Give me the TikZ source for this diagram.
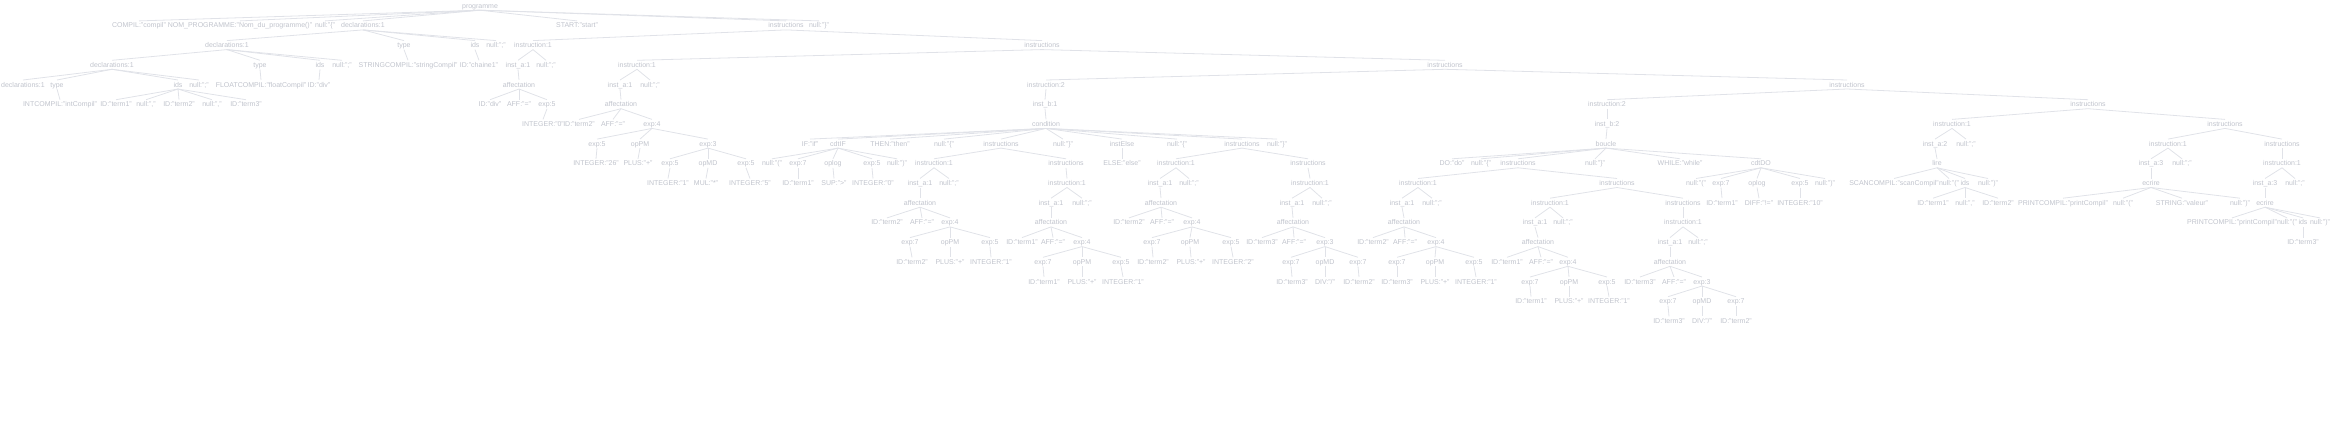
\documentclass[tikz,border=0pt]{standalone}
\usepackage{fontspec}
\setmainfont{Liberation Sans}
\definecolor{txtc}{RGB}{192,195,204}
\definecolor{lnc}{RGB}{224,226,232}
\tikzset{
  tn/.style={inner sep=0.3pt, text=txtc, font=\fontsize{7}{8}\selectfont, text height=6.5pt, text depth=1.5pt, anchor=base},
  ln/.style={draw=lnc, line width=0.8pt}
}
\newcommand\nd[4]{\node[tn] (#1) at (#2,{8.2+19.7*#3}) {#4};}
\newcommand\edg[2]{\draw[ln] (#1.south) -- (#2.north);}
\begin{document}
\begin{tikzpicture}[x=1pt,y=-1pt]
\useasboundingbox (0,0) rectangle (2330,434);
% level 0
\nd{r}{480}{0}{programme}
% level 1
\nd{a1}{139}{1}{COMPIL:"compil"}
\nd{a2}{240}{1}{NOM\_PROGRAMME:"Nom\_du\_programme()"}
\nd{a3}{325}{1}{null:"\{"}
\nd{a4}{363}{1}{declarations:1}
\nd{a5}{577}{1}{START:"start"}
\nd{a6}{786}{1}{instructions}
\nd{a7}{819}{1}{null:"\}"}
% level 2
\nd{b1}{227}{2}{declarations:1}
\nd{b2}{404}{2}{type}
\nd{b3}{475}{2}{ids}
\nd{b4}{496}{2}{null:";"}
\nd{b5}{533}{2}{instruction:1}
\nd{b6}{1042}{2}{instructions}
% level 3
\nd{c1}{112}{3}{declarations:1}
\nd{c2}{260}{3}{type}
\nd{c3}{320}{3}{ids}
\nd{c4}{342}{3}{null:";"}
\nd{c5}{408}{3}{STRINGCOMPIL:"stringCompil"}
\nd{c6}{479}{3}{ID:"chaine1"}
\nd{c7}{518}{3}{inst\_a:1}
\nd{c8}{546}{3}{null:";"}
\nd{c9}{637}{3}{instruction:1}
\nd{c10}{1445}{3}{instructions}
% level 4
\nd{d1}{23}{4}{declarations:1}
\nd{d2}{57}{4}{type}
\nd{d3}{178}{4}{ids}
\nd{d4}{199}{4}{null:";"}
\nd{d5}{261}{4}{FLOATCOMPIL:"floatCompil"}
\nd{d6}{319}{4}{ID:"div"}
\nd{d7}{519}{4}{affectation}
\nd{d8}{620}{4}{inst\_a:1}
\nd{d9}{650}{4}{null:";"}
\nd{d10}{1046}{4}{instruction:2}
\nd{d11}{1847}{4}{instructions}
% level 5
\nd{e1}{60}{5}{INTCOMPIL:"intCompil"}
\nd{e2}{116}{5}{ID:"term1"}
\nd{e3}{146}{5}{null:","}
\nd{e4}{179}{5}{ID:"term2"}
\nd{e5}{212}{5}{null:","}
\nd{e6}{246}{5}{ID:"term3"}
\nd{e7}{490}{5}{ID:"div"}
\nd{e8}{519}{5}{AFF:"="}
\nd{e9}{547}{5}{exp:5}
\nd{e10}{621}{5}{affectation}
\nd{e11}{1045}{5}{inst\_b:1}
\nd{e12}{1607}{5}{instruction:2}
\nd{e13}{2088}{5}{instructions}
% level 6
\nd{f1}{543}{6}{INTEGER:"0"}
\nd{f2}{579}{6}{ID:"term2"}
\nd{f3}{613}{6}{AFF:"="}
\nd{f4}{652}{6}{exp:4}
\nd{f5}{1046}{6}{condition}
\nd{f6}{1607}{6}{inst\_b:2}
\nd{f7}{1952}{6}{instruction:1}
\nd{f8}{2225}{6}{instructions}
% level 7
\nd{g1}{597}{7}{exp:5}
\nd{g2}{640}{7}{opPM}
\nd{g3}{708}{7}{exp:3}
\nd{g4}{810}{7}{IF:"if"}
\nd{g5}{838}{7}{cdtIF}
\nd{g6}{890}{7}{THEN:"then"}
\nd{g7}{944}{7}{null:"\{"}
\nd{g8}{1001}{7}{instructions}
\nd{g9}{1063}{7}{null:"\}"}
\nd{g10}{1122}{7}{instElse}
\nd{g11}{1177}{7}{null:"\{"}
\nd{g12}{1242}{7}{instructions}
\nd{g13}{1277}{7}{null:"\}"}
\nd{g14}{1606}{7}{boucle}
\nd{g15}{1935}{7}{inst\_a:2}
\nd{g16}{1966}{7}{null:";"}
\nd{g17}{2168}{7}{instruction:1}
\nd{g18}{2282}{7}{instructions}
% level 8
\nd{h1}{596}{8}{INTEGER:"26"}
\nd{h2}{638}{8}{PLUS:"+"}
\nd{h3}{670}{8}{exp:5}
\nd{h4}{708}{8}{opMD}
\nd{h5}{746}{8}{exp:5}
\nd{h6}{772}{8}{null:"("}
\nd{h7}{798}{8}{exp:7}
\nd{h8}{833}{8}{oplog}
\nd{h9}{872}{8}{exp:5}
\nd{h10}{897}{8}{null:")"}
\nd{h11}{934}{8}{instruction:1}
\nd{h12}{1066}{8}{instructions}
\nd{h13}{1122}{8}{ELSE:"else"}
\nd{h14}{1176}{8}{instruction:1}
\nd{h15}{1308}{8}{instructions}
\nd{h16}{1452}{8}{DO:"do"}
\nd{h17}{1481}{8}{null:"\{"}
\nd{h18}{1518}{8}{instructions}
\nd{h19}{1595}{8}{null:"\}"}
\nd{h20}{1680}{8}{WHILE:"while"}
\nd{h21}{1761}{8}{cdtDO}
\nd{h22}{1937}{8}{lire}
\nd{h23}{2151}{8}{inst\_a:3}
\nd{h24}{2182}{8}{null:";"}
\nd{h25}{2282}{8}{instruction:1}
% level 9
\nd{i1}{668}{9}{INTEGER:"1"}
\nd{i2}{706}{9}{MUL:"*"}
\nd{i3}{750}{9}{INTEGER:"5"}
\nd{i4}{798}{9}{ID:"term1"}
\nd{i5}{834}{9}{SUP:">"}
\nd{i6}{873}{9}{INTEGER:"0"}
\nd{i7}{920}{9}{inst\_a:1}
\nd{i8}{949}{9}{null:";"}
\nd{i9}{1067}{9}{instruction:1}
\nd{i10}{1160}{9}{inst\_a:1}
\nd{i11}{1189}{9}{null:";"}
\nd{i12}{1310}{9}{instruction:1}
\nd{i13}{1418}{9}{instruction:1}
\nd{i14}{1617}{9}{instructions}
\nd{i15}{1696}{9}{null:"("}
\nd{i16}{1721}{9}{exp:7}
\nd{i17}{1757}{9}{oplog}
\nd{i18}{1800}{9}{exp:5}
\nd{i19}{1825}{9}{null:")"}
\nd{i20}{1894}{9}{SCANCOMPIL:"scanCompil"}
\nd{i21}{1949}{9}{null:"("}
\nd{i22}{1965}{9}{ids}
\nd{i23}{1988}{9}{null:")"}
\nd{i24}{2151}{9}{ecrire}
\nd{i25}{2265}{9}{inst\_a:3}
\nd{i26}{2295}{9}{null:";"}
% level 10
\nd{j1}{920}{10}{affectation}
\nd{j2}{1051}{10}{inst\_a:1}
\nd{j3}{1082}{10}{null:";"}
\nd{j4}{1161}{10}{affectation}
\nd{j5}{1292}{10}{inst\_a:1}
\nd{j6}{1322}{10}{null:";"}
\nd{j7}{1402}{10}{inst\_a:1}
\nd{j8}{1432}{10}{null:";"}
\nd{j9}{1550}{10}{instruction:1}
\nd{j10}{1683}{10}{instructions}
\nd{j11}{1722}{10}{ID:"term1"}
\nd{j12}{1759}{10}{DIFF:"!="}
\nd{j13}{1800}{10}{INTEGER:"10"}
\nd{j14}{1933}{10}{ID:"term1"}
\nd{j15}{1965}{10}{null:","}
\nd{j16}{1998}{10}{ID:"term2"}
\nd{j17}{2063}{10}{PRINTCOMPIL:"printCompil"}
\nd{j18}{2123}{10}{null:"("}
\nd{j19}{2182}{10}{STRING:"valeur"}
\nd{j20}{2240}{10}{null:")"}
\nd{j21}{2265}{10}{ecrire}
% level 11
\nd{k1}{887}{11}{ID:"term2"}
\nd{k2}{922}{11}{AFF:"="}
\nd{k3}{950}{11}{exp:4}
\nd{k4}{1051}{11}{affectation}
\nd{k5}{1129}{11}{ID:"term2"}
\nd{k6}{1162}{11}{AFF:"="}
\nd{k7}{1192}{11}{exp:4}
\nd{k8}{1293}{11}{affectation}
\nd{k9}{1404}{11}{affectation}
\nd{k10}{1535}{11}{inst\_a:1}
\nd{k11}{1563}{11}{null:";"}
\nd{k12}{1683}{11}{instruction:1}
\nd{k13}{2232}{11}{PRINTCOMPIL:"printCompil"}
\nd{k14}{2287}{11}{null:"("}
\nd{k15}{2303}{11}{ids}
\nd{k16}{2320}{11}{null:")"}
% level 12
\nd{l1}{910}{12}{exp:7}
\nd{l2}{950}{12}{opPM}
\nd{l3}{990}{12}{exp:5}
\nd{l4}{1022}{12}{ID:"term1"}
\nd{l5}{1053}{12}{AFF:"="}
\nd{l6}{1082}{12}{exp:4}
\nd{l7}{1152}{12}{exp:7}
\nd{l8}{1190}{12}{opPM}
\nd{l9}{1231}{12}{exp:5}
\nd{l10}{1262}{12}{ID:"term3"}
\nd{l11}{1294}{12}{AFF:"="}
\nd{l12}{1325}{12}{exp:3}
\nd{l13}{1373}{12}{ID:"term2"}
\nd{l14}{1405}{12}{AFF:"="}
\nd{l15}{1436}{12}{exp:4}
\nd{l16}{1538}{12}{affectation}
\nd{l17}{1670}{12}{inst\_a:1}
\nd{l18}{1698}{12}{null:";"}
\nd{l19}{2303}{12}{ID:"term3"}
% level 13
\nd{m1}{912}{13}{ID:"term2"}
\nd{m2}{950}{13}{PLUS:"+"}
\nd{m3}{991}{13}{INTEGER:"1"}
\nd{m4}{1043}{13}{exp:7}
\nd{m5}{1082}{13}{opPM}
\nd{m6}{1121}{13}{exp:5}
\nd{m7}{1153}{13}{ID:"term2"}
\nd{m8}{1191}{13}{PLUS:"+"}
\nd{m9}{1233}{13}{INTEGER:"2"}
\nd{m10}{1291}{13}{exp:7}
\nd{m11}{1325}{13}{opMD}
\nd{m12}{1358}{13}{exp:7}
\nd{m13}{1397}{13}{exp:7}
\nd{m14}{1435}{13}{opPM}
\nd{m15}{1474}{13}{exp:5}
\nd{m16}{1507}{13}{ID:"term1"}
\nd{m17}{1541}{13}{AFF:"="}
\nd{m18}{1568}{13}{exp:4}
\nd{m19}{1670}{13}{affectation}
% level 14
\nd{n1}{1044}{14}{ID:"term1"}
\nd{n2}{1082}{14}{PLUS:"+"}
\nd{n3}{1123}{14}{INTEGER:"1"}
\nd{n4}{1292}{14}{ID:"term3"}
\nd{n5}{1325}{14}{DIV:"/"}
\nd{n6}{1359}{14}{ID:"term2"}
\nd{n7}{1397}{14}{ID:"term3"}
\nd{n8}{1435}{14}{PLUS:"+"}
\nd{n9}{1476}{14}{INTEGER:"1"}
\nd{n10}{1530}{14}{exp:7}
\nd{n11}{1569}{14}{opPM}
\nd{n12}{1607}{14}{exp:5}
\nd{n13}{1640}{14}{ID:"term3"}
\nd{n14}{1674}{14}{AFF:"="}
\nd{n15}{1702}{14}{exp:3}
% level 15
\nd{o1}{1531}{15}{ID:"term1"}
\nd{o2}{1569}{15}{PLUS:"+"}
\nd{o3}{1609}{15}{INTEGER:"1"}
\nd{o4}{1668}{15}{exp:7}
\nd{o5}{1702}{15}{opMD}
\nd{o6}{1736}{15}{exp:7}
% level 16
\nd{p1}{1669}{16}{ID:"term3"}
\nd{p2}{1702}{16}{DIV:"/"}
\nd{p3}{1736}{16}{ID:"term2"}
% edges
\foreach \c in {a1,a2,a3,a4,a5,a6,a7} {\edg{r}{\c}}
\foreach \c in {b1,b2,b3,b4} {\edg{a4}{\c}}
\foreach \c in {b5,b6} {\edg{a6}{\c}}
\foreach \c in {c1,c2,c3,c4} {\edg{b1}{\c}}
\edg{b2}{c5} \edg{b3}{c6}
\foreach \c in {c7,c8} {\edg{b5}{\c}}
\foreach \c in {c9,c10} {\edg{b6}{\c}}
\foreach \c in {d1,d2,d3,d4} {\edg{c1}{\c}}
\edg{c2}{d5} \edg{c3}{d6} \edg{c7}{d7}
\foreach \c in {d8,d9} {\edg{c9}{\c}}
\foreach \c in {d10,d11} {\edg{c10}{\c}}
\edg{d2}{e1}
\foreach \c in {e2,e3,e4,e5,e6} {\edg{d3}{\c}}
\foreach \c in {e7,e8,e9} {\edg{d7}{\c}}
\edg{d8}{e10} \edg{d10}{e11}
\foreach \c in {e12,e13} {\edg{d11}{\c}}
\edg{e9}{f1}
\foreach \c in {f2,f3,f4} {\edg{e10}{\c}}
\edg{e11}{f5} \edg{e12}{f6}
\foreach \c in {f7,f8} {\edg{e13}{\c}}
\foreach \c in {g1,g2,g3} {\edg{f4}{\c}}
\foreach \c in {g4,g5,g6,g7,g8,g9,g10,g11,g12,g13} {\edg{f5}{\c}}
\edg{f6}{g14}
\foreach \c in {g15,g16} {\edg{f7}{\c}}
\foreach \c in {g17,g18} {\edg{f8}{\c}}
\edg{g1}{h1} \edg{g2}{h2}
\foreach \c in {h3,h4,h5} {\edg{g3}{\c}}
\foreach \c in {h6,h7,h8,h9,h10} {\edg{g5}{\c}}
\foreach \c in {h11,h12} {\edg{g8}{\c}}
\edg{g10}{h13}
\foreach \c in {h14,h15} {\edg{g12}{\c}}
\foreach \c in {h16,h17,h18,h19,h20,h21} {\edg{g14}{\c}}
\edg{g15}{h22}
\foreach \c in {h23,h24} {\edg{g17}{\c}}
\edg{g18}{h25}
\edg{h3}{i1} \edg{h4}{i2} \edg{h5}{i3}
\edg{h7}{i4} \edg{h8}{i5} \edg{h9}{i6}
\foreach \c in {i7,i8} {\edg{h11}{\c}}
\edg{h12}{i9}
\foreach \c in {i10,i11} {\edg{h14}{\c}}
\edg{h15}{i12}
\foreach \c in {i13,i14} {\edg{h18}{\c}}
\foreach \c in {i15,i16,i17,i18,i19} {\edg{h21}{\c}}
\foreach \c in {i20,i21,i22,i23} {\edg{h22}{\c}}
\edg{h23}{i24}
\foreach \c in {i25,i26} {\edg{h25}{\c}}
\edg{i7}{j1}
\foreach \c in {j2,j3} {\edg{i9}{\c}}
\edg{i10}{j4}
\foreach \c in {j5,j6} {\edg{i12}{\c}}
\foreach \c in {j7,j8} {\edg{i13}{\c}}
\foreach \c in {j9,j10} {\edg{i14}{\c}}
\edg{i16}{j11} \edg{i17}{j12} \edg{i18}{j13}
\foreach \c in {j14,j15,j16} {\edg{i22}{\c}}
\foreach \c in {j17,j18,j19,j20} {\edg{i24}{\c}}
\edg{i25}{j21}
\foreach \c in {k1,k2,k3} {\edg{j1}{\c}}
\edg{j2}{k4}
\foreach \c in {k5,k6,k7} {\edg{j4}{\c}}
\edg{j5}{k8} \edg{j7}{k9}
\foreach \c in {k10,k11} {\edg{j9}{\c}}
\edg{j10}{k12}
\foreach \c in {k13,k14,k15,k16} {\edg{j21}{\c}}
\foreach \c in {l1,l2,l3} {\edg{k3}{\c}}
\foreach \c in {l4,l5,l6} {\edg{k4}{\c}}
\foreach \c in {l7,l8,l9} {\edg{k7}{\c}}
\foreach \c in {l10,l11,l12} {\edg{k8}{\c}}
\foreach \c in {l13,l14,l15} {\edg{k9}{\c}}
\edg{k10}{l16}
\foreach \c in {l17,l18} {\edg{k12}{\c}}
\edg{k15}{l19}
\edg{l1}{m1} \edg{l2}{m2} \edg{l3}{m3}
\foreach \c in {m4,m5,m6} {\edg{l6}{\c}}
\edg{l7}{m7} \edg{l8}{m8} \edg{l9}{m9}
\foreach \c in {m10,m11,m12} {\edg{l12}{\c}}
\foreach \c in {m13,m14,m15} {\edg{l15}{\c}}
\foreach \c in {m16,m17,m18} {\edg{l16}{\c}}
\edg{l17}{m19}
\edg{m4}{n1} \edg{m5}{n2} \edg{m6}{n3}
\edg{m10}{n4} \edg{m11}{n5} \edg{m12}{n6}
\edg{m13}{n7} \edg{m14}{n8} \edg{m15}{n9}
\foreach \c in {n10,n11,n12} {\edg{m18}{\c}}
\foreach \c in {n13,n14,n15} {\edg{m19}{\c}}
\edg{n10}{o1} \edg{n11}{o2} \edg{n12}{o3}
\foreach \c in {o4,o5,o6} {\edg{n15}{\c}}
\edg{o4}{p1} \edg{o5}{p2} \edg{o6}{p3}
\end{tikzpicture}
\end{document}
